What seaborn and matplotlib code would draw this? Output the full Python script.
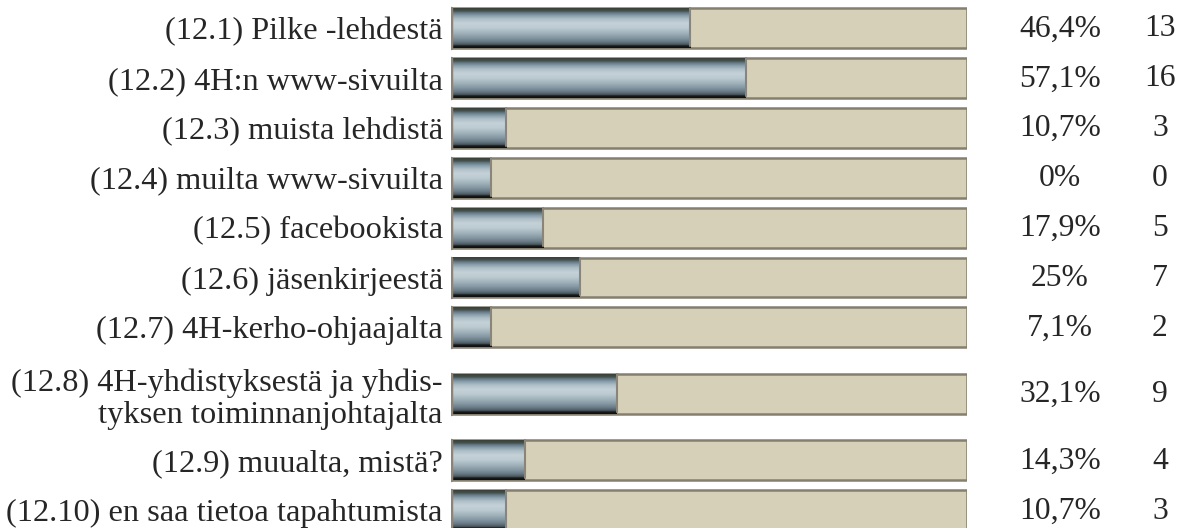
import matplotlib
matplotlib.use('Agg')
import matplotlib.pyplot as plt
from matplotlib.colors import LinearSegmentedColormap
import seaborn as sns
import numpy as np
import pandas as pd

# data
labels = ['(12.1) Pilke -lehdestä', '(12.2) 4H:n www-sivuilta', '(12.3) muista lehdistä',
          '(12.4) muilta www-sivuilta', '(12.5) facebookista', '(12.6) jäsenkirjeestä',
          '(12.7) 4H-kerho-ohjaajalta',
          '(12.8) 4H-yhdistyksestä ja yhdis-\ntyksen toiminnanjohtajalta',
          '(12.9) muualta, mistä?', '(12.10) en saa tietoa tapahtumista']
pct = [46.4, 57.1, 10.7, 0, 17.9, 25, 7.1, 32.1, 14.3, 10.7]
pct_text = ['46,4%', '57,1%', '10,7%', '0%', '17,9%', '25%', '7,1%', '32,1%', '14,3%', '10,7%']
counts = [13, 16, 3, 0, 5, 7, 2, 9, 4, 3]

# row layout: two-line rows get extra room
ypos = []
y = 0.0
for lab in labels:
    extra = 0.33 * lab.count('\n')
    y += extra
    ypos.append(y)
    y += 1 + extra
ypos = np.array(ypos)

min_fill = 7.8  # renderer always shows a small stub
df = pd.DataFrame({'label': labels, 'pct': pct, 'pos': ypos,
                   'fill': np.maximum(pct, min_fill), 'track': 100})

sns.set_style('white')
plt.rcParams['font.family'] = ['Liberation Serif', 'DejaVu Serif']
FS = 22.8
FS_LAB = 23.3

fig = plt.figure(figsize=(11.8, 5.28), dpi=100)
ax = fig.add_axes([451 / 1180, 0, 516 / 1180, 1])

sns.barplot(data=df, x='track', y='pos', orient='h', native_scale=True, width=0.8,
            color='#d5d0b7', edgecolor='#857f70', linewidth=1.8, saturation=1, ax=ax)
n_track = len(ax.patches)
sns.barplot(data=df, x='fill', y='pos', orient='h', native_scale=True, width=0.8,
            color='#8fa2ac', edgecolor='none', saturation=1, ax=ax)

# cylinder-like gradient on the filled part
grad = LinearSegmentedColormap.from_list('cyl', [
    (0.00, '#3a4139'), (0.06, '#434e4b'), (0.11, '#627783'), (0.18, '#889daa'),
    (0.27, '#afbfc7'), (0.38, '#c5d2d8'), (0.50, '#bccad1'), (0.62, '#a3b4bd'),
    (0.74, '#8699a4'), (0.85, '#667984'), (0.92, '#4a585e'), (0.955, '#181818'),
    (1.00, '#101010')])
col = np.linspace(0, 1, 60).reshape(-1, 1)
for p in ax.patches[n_track:]:
    x0, y0, w, h = p.get_x(), p.get_y(), p.get_width(), p.get_height()
    ax.imshow(col, cmap=grad, aspect='auto', interpolation='bilinear',
              extent=(x0, x0 + w, y0 + h, y0), origin='upper', zorder=3)
    ax.plot([x0 + w, x0 + w], [y0, y0 + h * 0.95], color='#8a8578', lw=1.5, zorder=4)
    ax.plot([x0, x0], [y0, y0 + h], color='#8a8578', lw=2.5, zorder=4)

for i, r in df.iterrows():
    ax.text(118.0, r['pos'] + 0.02, pct_text[i], ha='center', va='center', fontsize=FS,
            clip_on=False)
    ax.text(137.4, r['pos'] + 0.02, str(counts[i]), ha='center', va='center', fontsize=FS,
            clip_on=False)

ax.set_xlim(0, 100)
ax.set_ylim(ypos[-1] + 0.36, -0.56)
ax.set_yticks(ypos)
ax.set_yticklabels(labels, fontsize=FS_LAB, ha='right', multialignment='right',
                   linespacing=1.15)
ax.tick_params(axis='y', length=0, pad=6)
ax.set_xticks([])
ax.set_xlabel('')
ax.set_ylabel('')
sns.despine(ax=ax, left=True, bottom=True)

fig.savefig('out.png', dpi=100)
